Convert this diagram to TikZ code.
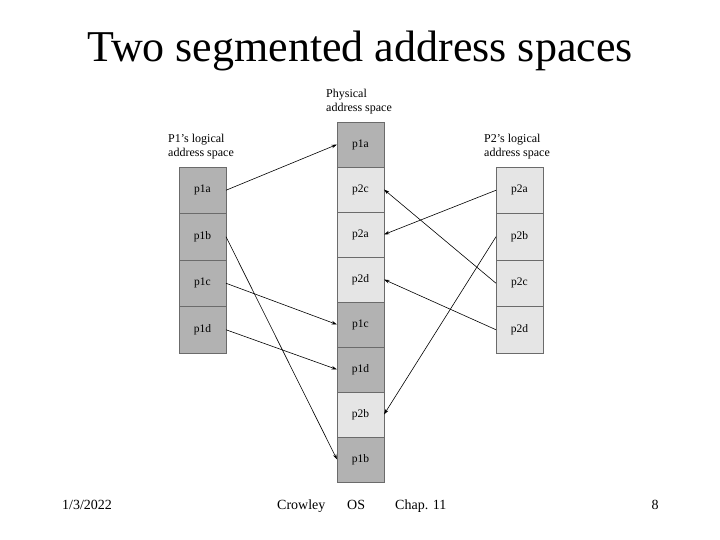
\documentclass[tikz,border=0pt]{standalone}
\usepackage{fontspec}
\setmainfont{Liberation Serif}
\usetikzlibrary{positioning,arrows.meta}

\definecolor{segdark}{gray}{0.70}
\definecolor{seglight}{gray}{0.90}
\definecolor{segline}{gray}{0.42}

\tikzset{
  seg/.style={draw=segline, line width=0.8pt, minimum width=47pt, minimum height=45pt,
    inner sep=0pt, outer sep=0pt, font=\fontsize{11.5}{13}\selectfont},
  segdk/.style={seg, fill=segdark},
  seglt/.style={seg, fill=seglight},
  logseg/.style={minimum height=46.5pt},
  spacelabel/.style={align=left, anchor=south west, inner sep=0pt, font=\fontsize{12}{14}\selectfont},
  footer/.style={anchor=base west, inner sep=0pt, font=\fontsize{14}{16}\selectfont},
  map/.style={-{Stealth[length=5.5pt,width=3.5pt]}, line width=0.6pt},
}

\begin{document}
\begin{tikzpicture}[x=1pt, y=-1pt]

    \useasboundingbox (0,0) rectangle (720,540);

    % Title
    \node[anchor=base, inner sep=0pt, font=\fontsize{44}{50}\selectfont] (title) at (360,62) {Two segmented address spaces};

    % P1's logical address space
    \node[spacelabel] (p1label) at (168,159.5) {P1's logical\\address space};
    \node[segdk, logseg] (l1a) at (202.5,190.25) {p1a};
    \node[segdk, logseg, below=0pt of l1a] (l1b) {p1b};
    \node[segdk, logseg, below=0pt of l1b] (l1c) {p1c};
    \node[segdk, logseg, below=0pt of l1c] (l1d) {p1d};

    % Physical address space
    \node[spacelabel] (physlabel) at (326,114.5) {Physical\\address space};
    \node[segdk] (phys1a) at (360.5,144.5) {p1a};
    \node[seglt, below=0pt of phys1a] (phys2c) {p2c};
    \node[seglt, below=0pt of phys2c] (phys2a) {p2a};
    \node[seglt, below=0pt of phys2a] (phys2d) {p2d};
    \node[segdk, below=0pt of phys2d] (phys1c) {p1c};
    \node[segdk, below=0pt of phys1c] (phys1d) {p1d};
    \node[seglt, below=0pt of phys1d] (phys2b) {p2b};
    \node[segdk, below=0pt of phys2b] (phys1b) {p1b};

    % P2's logical address space
    \node[spacelabel] (p2label) at (484,159.5) {P2's logical\\address space};
    \node[seglt, logseg] (r2a) at (519.5,190.25) {p2a};
    \node[seglt, logseg, below=0pt of r2a] (r2b) {p2b};
    \node[seglt, logseg, below=0pt of r2b] (r2c) {p2c};
    \node[seglt, logseg, below=0pt of r2c] (r2d) {p2d};

    % Mapping of P1's segments
    \draw[map] (l1a.east) -- (phys1a.west);
    \draw[map] (l1b.east) -- (phys1b.west);
    \draw[map] (l1c.east) -- (phys1c.west);
    \draw[map] (l1d.east) -- (phys1d.west);

    % Mapping of P2's segments
    \draw[map] (r2a.west) -- (phys2a.east);
    \draw[map] (r2b.west) -- (phys2b.east);
    \draw[map] (r2c.west) -- (phys2c.east);
    \draw[map] (r2d.west) -- (phys2d.east);

    % Footer
    \node[footer] (date) at (62,509) {1/3/2022};
    \node[footer] (author) at (277,509) {Crowley};
    \node[footer] (course) at (347,509) {OS};
    \node[footer] (chapter) at (395,509) {Chap. 11};
    \node[footer, anchor=base] (page) at (655,509) {8};

\end{tikzpicture}
\end{document}
